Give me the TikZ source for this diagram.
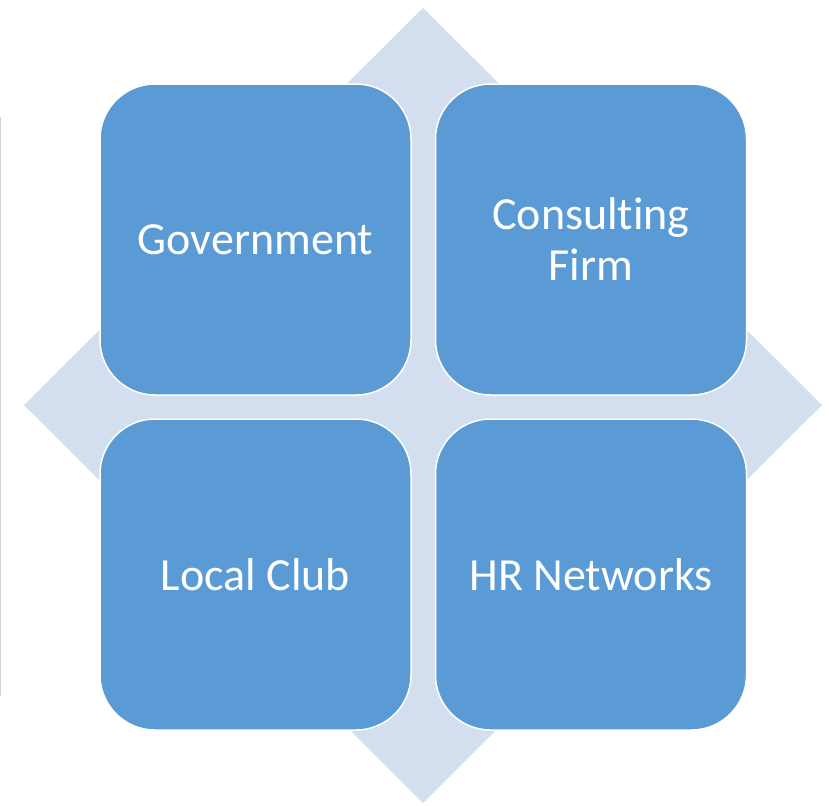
\documentclass[tikz,border=0pt]{standalone}
\usepackage{fontspec}
\setmainfont{Carlito}[Ligatures=NoCommon]
\definecolor{tileblue}{HTML}{5B9BD5}
\definecolor{diamondblue}{HTML}{D3DEEF}
\definecolor{edgegray}{HTML}{D4D4D4}

\begin{document}
\begin{tikzpicture}[x=0.5pt, y=-0.5pt,
                tile/.style={rectangle, rounded corners=27.5pt, draw=white, line width=0.75pt, fill=tileblue,
                    minimum width=155.5pt, minimum height=155.5pt, align=center, text=white,
                    font=\fontsize{23}{25.5}\selectfont}
            ]
            \useasboundingbox (0,0) rectangle (829,805);

            % Background diamond
            \fill[diamondblue] (423,8) -- (822,405) -- (423,803) -- (24,405) -- cycle;

            % Thin rule at the left edge
            \draw[edgegray, line width=0.6pt] (0.6,117) -- (0.6,696);

            % Quadrant tiles
            \node[tile] (gov) at (255.5, 239.5) {Government};
            \node[tile] (firm) at (591, 239.5) {Consulting\\Firm};
            \node[tile] (club) at (255.5, 574.5) {Local Club};
            \node[tile] (hr) at (591, 574.5) {HR Networks};

        \end{tikzpicture}
\end{document}
